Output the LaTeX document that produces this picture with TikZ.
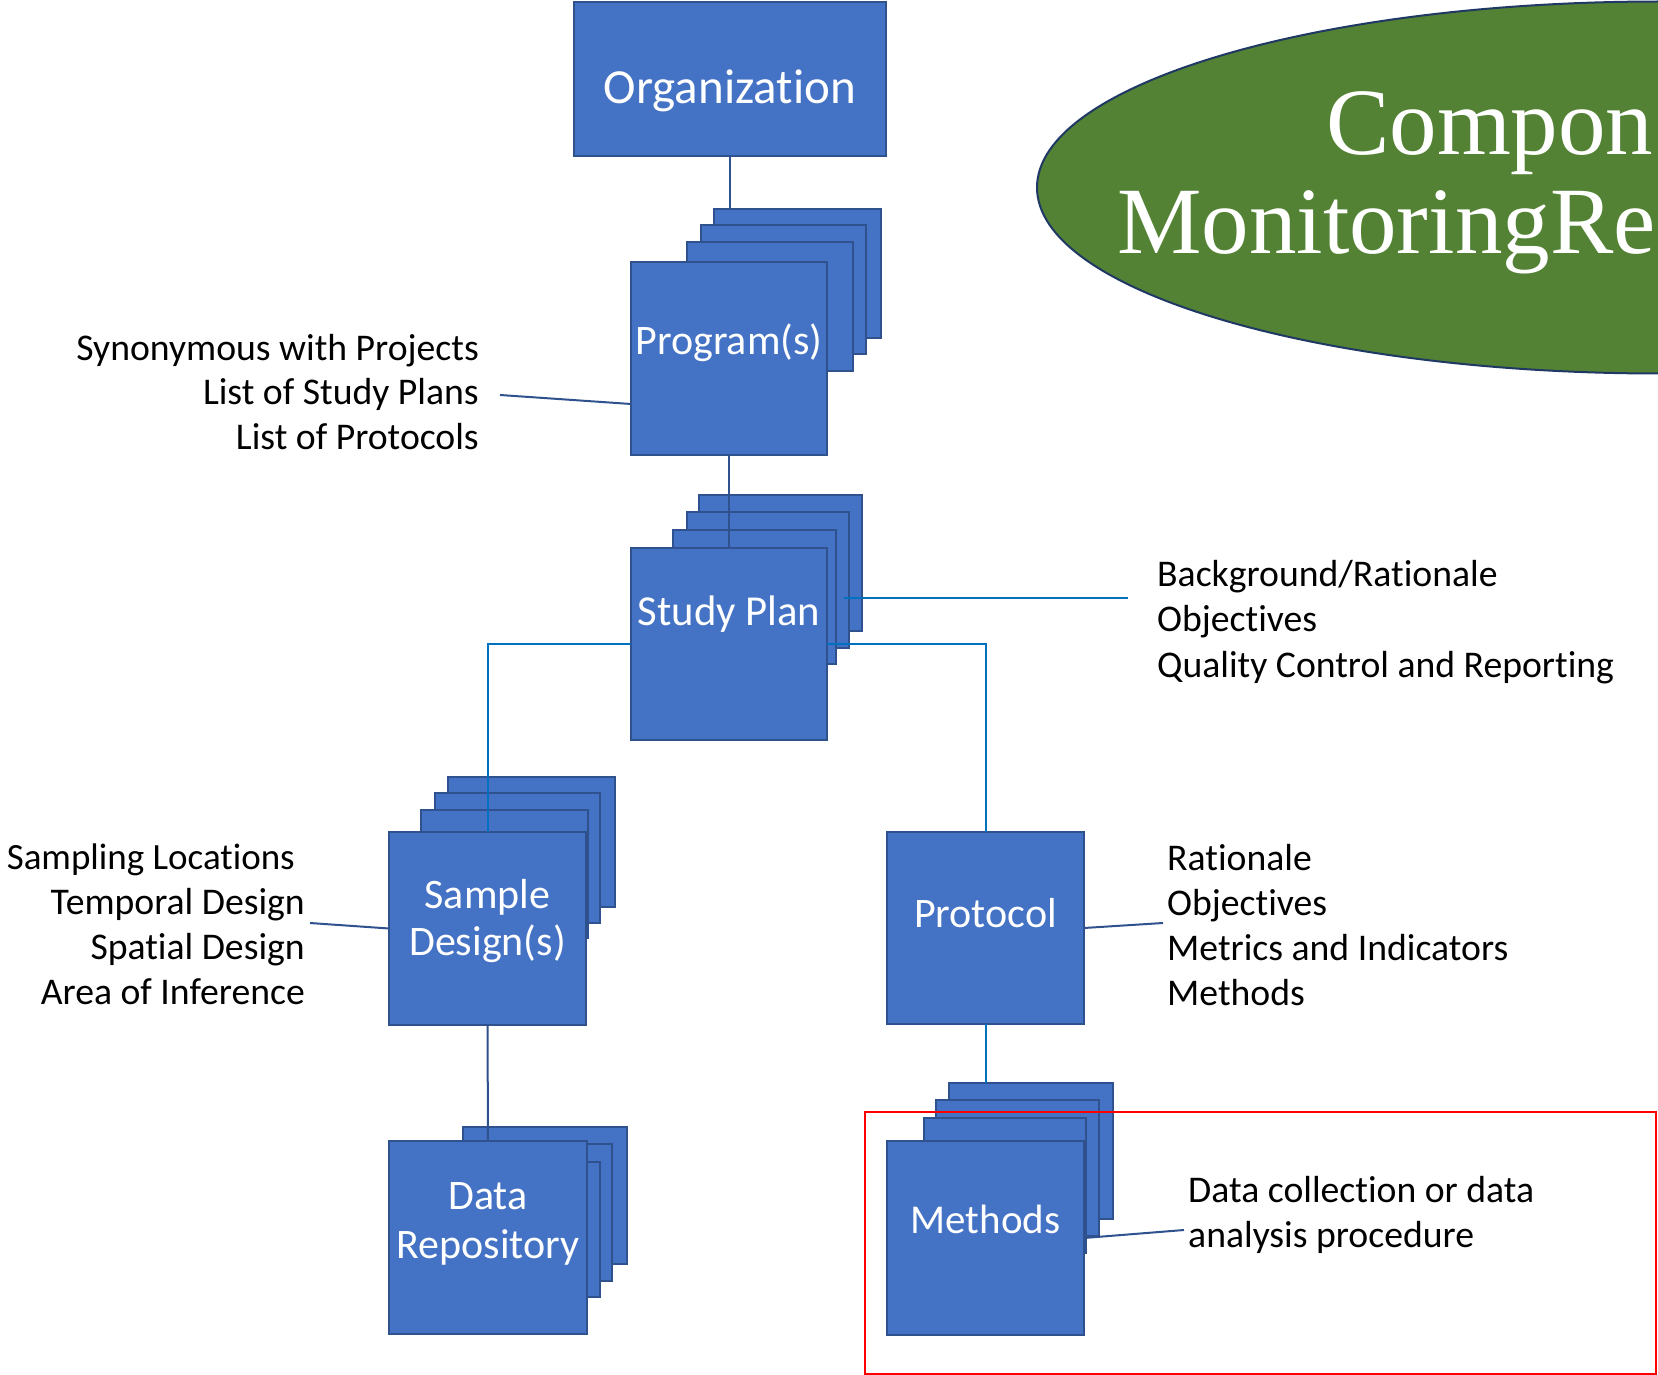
\documentclass[tikz,border=0pt]{standalone}
\usepackage{fontspec}
\setmainfont{Carlito}[Ligatures=NoCommon]
\newfontfamily\titlefont{Liberation Serif}
\usetikzlibrary{calc,shapes.geometric}
\definecolor{boxfill}{HTML}{4472C4}
\definecolor{boxline}{HTML}{2F528F}
\definecolor{darkline}{HTML}{2F528F}
\definecolor{blueline}{HTML}{0070C0}
\definecolor{ellfill}{HTML}{548235}
\definecolor{ellline}{HTML}{1F3864}
\definecolor{redbox}{HTML}{FF0000}
\newcommand\boxat[5]{\node[bx, minimum width={(#4-#2)*1pt}, minimum height={(#5-#3)*1pt}] (#1) at ({(#2+#4)/2},{(#3+#5)/2}) {};}
\begin{document}
\begin{tikzpicture}[x=1pt,y=-1pt,
  bx/.style={rectangle, draw=boxline, fill=boxfill, line width=2pt, inner sep=0pt, outer sep=0pt},
  lbl/.style={text=white, font=\fontsize{42}{49}\selectfont, inner sep=0pt, anchor=base},
  biglbl/.style={text=white, font=\fontsize{49}{56}\selectfont, inner sep=0pt, anchor=base},
  side/.style={text=black, font=\fontsize{37.7}{45}\selectfont, inner sep=0pt},
  ttl/.style={text=white, font=\titlefont\fontsize{95}{100}\selectfont, inner sep=0pt, anchor=base west},
  dark/.style={draw=darkline, line width=2pt},
  blue/.style={draw=blueline, line width=2pt},
  redframe/.style={draw=redbox, line width=2pt}]
\useasboundingbox (0,0) rectangle (1658,1375);
\begin{scope}
\clip (0,0) rectangle (1658,1375);
% title ellipse
\node[ellipse, draw=ellline, fill=ellfill, line width=2pt, minimum width=1246pt, minimum height=372pt, inner sep=0pt] (ell) at (1660,187.5) {};
\node[ttl] (ttl1) at (1326,155) {Compon};
\node[ttl] (ttl2) at (1117,254) {MonitoringRe};
\end{scope}

% Organization
\boxat{org}{574}{2}{886}{156}
% Program back boxes
\boxat{P4}{714}{209}{881}{338}
\boxat{P3}{701}{225}{866}{354}
\boxat{P2}{687}{242}{853}{371}
% Study back boxes
\boxat{S4}{699}{495}{862}{631}
\boxat{S3}{687}{512}{849}{648}
\boxat{S2}{673}{530}{836}{664}
% Sample back boxes
\boxat{D4}{448}{777}{615}{907}
\boxat{D3}{435}{793}{600}{923}
\boxat{D2}{421}{810}{588}{938}
% Data back boxes
\boxat{R4}{463}{1127}{627}{1264}
\boxat{R3}{450}{1144}{612}{1281}
\boxat{R2}{440}{1162}{600}{1297}
% Methods back boxes
\boxat{M4}{949}{1083}{1113}{1219}
\boxat{M3}{936}{1100}{1099}{1236}
\boxat{M2}{924}{1118}{1086}{1253}

% free ends of connectors
\coordinate (pl) at (500,395);
\coordinate (sl) at (310,923);
\coordinate (prl) at (1163,923);
\coordinate (ml) at (1184,1230);
\coordinate (stl) at (1128,598);

% front boxes
\boxat{P1}{631}{262}{827}{455}
\boxat{S1}{631}{548}{827}{740}
\boxat{D1}{389}{832}{586}{1025}
\boxat{R1}{389}{1141}{587}{1334}
\boxat{prot}{887}{832}{1084}{1024}
\boxat{M1}{887}{1141}{1084}{1335}

% connectors
\draw[dark] (org.south) -- (org.south |- P4.north);
\draw[dark] (P1.south) -- (S1.north);
\draw[blue] (S1.west) -| (D1.north);
\draw[blue] (S1.east) -| (prot.north);
\draw[blue] ([xshift=-5pt,yshift=-18pt]S3.east) -- (stl);
\draw[dark] (D1.south) -- (R1.north);
\draw[blue] (prot.south) -- (prot.south |- M4.north);
\draw[dark] (pl) -- ([yshift=-45.5pt]P1.west);
\draw[dark] (sl) -- (D1.west);
\draw[dark] (prot.east) -- (prl);
\draw[dark] (M1.east) -- (ml);

% box labels
\node[biglbl] (tOrg) at (730,104) {Organization};
\node[lbl] (tProg) at (729,354) {Program(s)};
\node[lbl, font=\fontsize{42.7}{49}\selectfont] (tStudy) at (729,625) {Study Plan};
\node[lbl] (tSam1) at (487.5,908) {Sample};
\node[lbl] (tSam2) at (487.5,955) {Design(s)};
\node[lbl] (tDat1) at (488,1209) {Data};
\node[lbl] (tDat2) at (488,1258) {Repository};
\node[lbl] (tProt) at (985.5,927) {Protocol};
\node[lbl, font=\fontsize{41}{49}\selectfont] (tMeth) at (985.5,1233) {Methods};

% side texts
\node[side, anchor=base east] (pa) at (479,360) {Synonymous with Projects};
\node[side, anchor=base east] (pb) at (479,404.5) {List of Study Plans};
\node[side, anchor=base east] (pc) at (479,449) {List of Protocols};

\node[side, anchor=base west] (sa) at (1157,586) {Background/Rationale};
\node[side, anchor=base west] (sb) at (1157,631.5) {Objectives};
\node[side, anchor=base west] (sc) at (1157,677) {Quality Control and Reporting};

\node[side, anchor=base east, font=\fontsize{37}{45}\selectfont] (da) at (295,869) {Sampling Locations};
\node[side, anchor=base east] (db) at (305,914) {Temporal Design};
\node[side, anchor=base east] (dc) at (305,959) {Spatial Design};
\node[side, anchor=base east] (dd) at (305,1004) {Area of Inference};

\node[side, anchor=base west] (ra) at (1167,870) {Rationale};
\node[side, anchor=base west] (rb) at (1167,915) {Objectives};
\node[side, anchor=base west] (rc) at (1167,960) {Metrics and Indicators};
\node[side, anchor=base west] (rd) at (1167,1005) {Methods};

\node[side, anchor=base west] (ma) at (1188,1202) {Data collection or data};
\node[side, anchor=base west] (mb) at (1188,1247) {analysis procedure};

% red frame
\draw[redframe] (865,1112) rectangle (1656,1374);
\end{tikzpicture}
\end{document}
